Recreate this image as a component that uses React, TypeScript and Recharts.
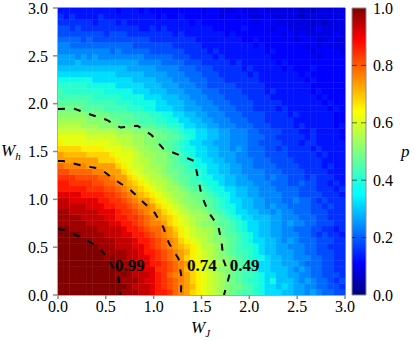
// App.tsx - p(W_J, W_h) heat map with dashed contours
import React from "react"
import {
  ReferenceArea,
  ReferenceDot,
  ReferenceLine,
  Scatter,
  ScatterChart,
  XAxis,
  YAxis,
} from "recharts"

const WIDTH = 415
const HEIGHT = 341
const SERIF = "'Liberation Serif', serif"
const AXIS_GRAY = "#8c8c8c"
const CELL_PX = 287 / 50

const axisTicks = [0, 0.5, 1, 1.5, 2, 2.5, 3]
const colorbarTicks = [0, 0.2, 0.4, 0.6, 0.8, 1]
const colorbarMarks = [0.2, 0.4, 0.6, 0.8]
const colorbarEnds = [{ x: 0, y: 0 }, { x: 1, y: 1 }]

// one string per row, from W_h = 0 upward, 50 cells each
// each char is p in 35ths (0 -> 0.0, z -> 1.0)
const pRows = [
  "zzzzzzzzzz zyyyxxwvvu srqonmlkji hgffedcccb baa9a98877",
  "zzzzzzzzzz zzyxxxwvut srqpnmlkji hhgfedccbc baa9988776",
  "zzzzzzzzzz zyyyxwwvut srqonmlkji hgfeedcdbb ba9a988767",
  "zzzzzzzzzz yzyxxxwvus rrqonmlkji hgffedccbb aa99887776",
  "zzzzzzzzzz zyyxxwwuut srpomlkjii hgfedccbbb a9a9887766",
  "zzzzzzzzzz yyyxxwvvut srqonmlkji hgfeeccbba aa98887766",
  "zzzzzzzzyz yyxxwwvuts rqonmlkjii hgfeddcbba a999887766",
  "zzzzzzzzyy yyxxwvvuts rqpnmlkjih gffedcbbaa a998877766",
  "zzzzzzzyyy xxxwwvutsr qponmkkjih gfeedcbbaa 9998877666",
  "zzzzzzyyyy xxxwvvutsr qonmlkjiih gfedccbba9 a988877766",
  "zzzzyyyyxx xwwvvutsrq pnmlkkjihg gfedcbbaa9 9988767665",
  "zzyyyyyxxx xwvvutssrq onmlkjjihg fedccbbaa9 9888776656",
  "yyyyyxxxxw wvvutsrrqo nmlkjiihgg fedccbbaa9 a998877766",
  "yyyyxxxxww vvuutsrqpo nmlkjjihgf edccbbbaa9 9988877666",
  "yyxxxxxwww vuutsrqqon mlkjjihgfe dccbbaa9a9 9888777666",
  "xxxxxwwwvv uutsrrqonm lkjiihgfed dcbbaa9a99 8888776766",
  "xxwwwwwvvu utsrqqonml kjiihggfed ccbbaa9998 8988767666",
  "wwwwvvvvuu tsrqponmlk jjihhgfedd cbbaa99998 8877776665",
  "vvvvvuuutt srqponmlkj jihggfeddc cbbaa99988 8877766656",
  "vvuuuuttss rqponmlkkj ihgffeddcb baaa999888 7787766565",
  "uuuttttssr qqonmlkkji hggfeddccb baa9998988 7776766655",
  "ttssssrrqq qonmlkkjih hgffedccbb aa99998887 7776666555",
  "srrrrqqqqq onmllkjjih ggfeddccbb aa99888877 7766665655",
  "qqqqqqqooo nmmlkkjiih gfeedccbba a999888777 7666665555",
  "qppppoooon mmmlkjjiih gfedccbbaa a998887777 6666656555",
  "oooonnnnmm mllkjjiihg feddccbbaa 9a98887767 6666565555",
  "nmmmmmmmml lkkjjiihgg fedccbbaaa 9998877776 6656655555",
  "mmmmmlllll kkkjjiihhg gfedccbbaa 9998887766 6665655554",
  "lllllkkkkk jjjiiihhgg feddccbbaa 9998877776 6655655554",
  "kkkkjjjiii hhhhgggffe edccbbaa99 9888777666 6565555545",
  "jjjjjiiiih hgggfffeed dccbbaa999 8887776666 6555555544",
  "iiiiihhhhg gggfffeedd ccbbaa9998 8877776666 5655555544",
  "hhhhggggff ffeeeddccc bbaaa99988 8777666656 5555555454",
  "gggggfffff eeeddddccb bbaa999888 7777666665 5555554544",
  "ffffffeeee eddddcccbb baa9998887 7776666555 5555545444",
  "feeeeeeedd dddcccbbba aa99988877 7766665655 5555454444",
  "eeeeeddddd cccccbbbaa a999887777 7666665555 5555444444",
  "ddddddcccc cccbbbbaaa 9998887776 6666655555 5554544444",
  "cccccccccc bbbbbaaaa9 9988877766 6665655555 5545444444",
  "bbbbbbbbbb bbaaaaa999 9888777666 6656555554 5444544444",
  "aaabaaaaaa aaaa999988 8877766666 5655555545 4444444444",
  "aaa9a9a999 9999988888 7776666565 5555555444 4444434444",
  "9999999998 9888887777 7766665655 5555554544 4444344443",
  "9988888888 8887777777 6666655555 5555454444 4443434333",
  "8888787777 7777776666 6666555555 5544544444 4344433433",
  "7777777767 7766666666 5655555554 5444444443 4343333343",
  "7767666666 6666556565 5555555444 4454444344 3333343333",
  "6666665666 5655555555 5554544444 4444344433 3333232333",
  "6565555655 5555555454 4544444434 4343334333 3323333333",
  "5555555555 4555454444 4444434433 3433343333 3323233333",
]

const contour99 = [
  { x: 0, y: 0.69 }, { x: 0.07, y: 0.68 }, { x: 0.265, y: 0.59 }, { x: 0.42, y: 0.505 },
  { x: 0.525, y: 0.38 }, { x: 0.63, y: 0.19 }, { x: 0.655, y: 0 },
]
const contour74 = [
  { x: 0, y: 1.4 }, { x: 0.055, y: 1.4 }, { x: 0.265, y: 1.35 }, { x: 0.44, y: 1.32 },
  { x: 0.6, y: 1.2 }, { x: 0.75, y: 1.105 }, { x: 0.88, y: 0.98 }, { x: 1.01, y: 0.86 },
  { x: 1.1, y: 0.71 }, { x: 1.16, y: 0.54 }, { x: 1.26, y: 0.38 }, { x: 1.29, y: 0.19 },
  { x: 1.285, y: 0 },
]
const contour49 = [
  { x: 0, y: 1.945 }, { x: 0.16, y: 1.95 }, { x: 0.33, y: 1.89 }, { x: 0.51, y: 1.83 },
  { x: 0.655, y: 1.75 }, { x: 0.83, y: 1.77 }, { x: 0.98, y: 1.67 }, { x: 1.1, y: 1.53 },
  { x: 1.275, y: 1.46 }, { x: 1.425, y: 1.4 }, { x: 1.465, y: 1.22 }, { x: 1.5, y: 1.045 },
  { x: 1.57, y: 0.87 }, { x: 1.675, y: 0.72 }, { x: 1.71, y: 0.55 }, { x: 1.73, y: 0.366 },
  { x: 1.79, y: 0.2 }, { x: 1.735, y: 0 },
]
const contours = [contour99, contour74, contour49]

const contourLabels = [
  { x: 0.75, y: 0.31, text: "0.99" },
  { x: 1.505, y: 0.31, text: "0.74" },
  { x: 1.95, y: 0.31, text: "0.49" },
]

const jetStops = [
  { at: 0, color: "#00007f" },
  { at: 0.11, color: "#0000ff" },
  { at: 0.35, color: "#00ffff" },
  { at: 0.375, color: "#0dfff0" },
  { at: 0.64, color: "#ffff00" },
  { at: 0.89, color: "#ff0000" },
  { at: 1, color: "#7f0000" },
]

const ramp = (p: number, x0: number, y0: number, x1: number, y1: number) =>
  y0 + ((y1 - y0) * (p - x0)) / (x1 - x0)

function jet(p: number) {
  const r = p < 0.35 ? 0 : p < 0.66 ? ramp(p, 0.35, 0, 0.66, 1) : p < 0.89 ? 1 : ramp(p, 0.89, 1, 1, 0.5)
  const g = p < 0.125 ? 0 : p < 0.375 ? ramp(p, 0.125, 0, 0.375, 1) : p < 0.64 ? 1 : p < 0.91 ? ramp(p, 0.64, 1, 0.91, 0) : 0
  const b = p < 0.11 ? ramp(p, 0, 0.5, 0.11, 1) : p < 0.34 ? 1 : p < 0.65 ? ramp(p, 0.34, 1, 0.65, 0) : 0
  return `rgb(${Math.round(r * 255)},${Math.round(g * 255)},${Math.round(b * 255)})`
}

const cells = pRows.flatMap((row, j) =>
  row
    .replace(/ /g, "")
    .split("")
    .map((ch, i) => ({
      x: (i + 0.5) * 0.06,
      y: (j + 0.5) * 0.06,
      p: parseInt(ch, 36) / 35,
    })),
)

const tickStyle = { fontFamily: SERIF, fontSize: 16, fill: "#000" }

const HeatCell = (props: any) => (
  <rect
    x={props.cx - CELL_PX / 2 - 0.2}
    y={props.cy - CELL_PX / 2 - 0.2}
    width={CELL_PX + 0.4}
    height={CELL_PX + 0.4}
    fill={jet(props.payload.p)}
  />
)

const titleStyle: React.CSSProperties = {
  position: "absolute",
  fontFamily: SERIF,
  fontStyle: "italic",
  fontSize: 17,
  lineHeight: "20px",
  color: "#000",
}
const subStyle: React.CSSProperties = { fontSize: 11, position: "relative", top: 4 }

export default function App() {
  return (
    <div style={{ position: "absolute", left: 0, top: 0, width: WIDTH, height: HEIGHT }}>
      <style>{".heat-cells{filter:blur(0.3px)}"}</style>
      <div style={{ position: "absolute", left: 0, top: 0 }}>
        <ScatterChart width={WIDTH} height={HEIGHT} margin={{ top: 8, right: 70, bottom: 0, left: 0 }}>
          <XAxis
            type="number"
            dataKey="x"
            domain={[0, 3]}
            ticks={axisTicks}
            interval={0}
            allowDataOverflow
            tickFormatter={(v: number) => v.toFixed(1)}
            height={46}
            tickSize={4}
            tick={tickStyle}
            stroke={AXIS_GRAY}
            strokeWidth={1.5}
          />
          <YAxis
            type="number"
            dataKey="y"
            domain={[0, 3]}
            ticks={axisTicks}
            interval={0}
            allowDataOverflow
            tickFormatter={(v: number) => v.toFixed(1)}
            width={58}
            tickSize={5}
            tickMargin={5}
            tick={tickStyle}
            stroke={AXIS_GRAY}
            strokeWidth={1.5}
          />
          <Scatter className="heat-cells" data={cells} shape={HeatCell} isAnimationActive={false} />
          {contours.map((points, i) => (
            <Scatter
              key={i}
              data={points}
              line={{ stroke: "#000", strokeWidth: 2, strokeDasharray: "7 9" }}
              shape={() => null}
              isAnimationActive={false}
            />
          ))}
          <ReferenceLine x={3} stroke={AXIS_GRAY} strokeWidth={2} />
          <ReferenceLine y={3} stroke="#30307a" strokeWidth={1} />
          {contourLabels.map((l) => (
            <ReferenceDot
              key={l.text}
              x={l.x}
              y={l.y}
              r={0}
              stroke="none"
              label={{
                value: l.text,
                position: "center",
                fontFamily: SERIF,
                fontWeight: "bold",
                fontSize: 17,
                fill: "#000",
              }}
            />
          ))}
        </ScatterChart>
      </div>
      {/* colour bar */}
      <div style={{ position: "absolute", left: 0, top: 0 }}>
        <ScatterChart width={WIDTH} height={HEIGHT} margin={{ top: 8, right: 0, bottom: 46, left: 352 }}>
          <defs>
            <linearGradient id="jetBar" x1="0" y1="1" x2="0" y2="0">
              {jetStops.map((s) => (
                <stop key={s.at} offset={s.at} stopColor={s.color} />
              ))}
            </linearGradient>
          </defs>
          <XAxis type="number" dataKey="x" domain={[0, 1]} hide />
          <YAxis
            type="number"
            dataKey="y"
            orientation="right"
            domain={[0, 1]}
            ticks={colorbarTicks}
            interval={0}
            tickFormatter={(v: number) => v.toFixed(1)}
            width={49}
            tickSize={0}
            tickMargin={7}
            tick={tickStyle}
            axisLine={false}
          />
          <Scatter data={colorbarEnds} shape={() => null} isAnimationActive={false} />
          <ReferenceArea x1={0} x2={1} y1={0} y2={1} fill="url(#jetBar)" fillOpacity={1} stroke={AXIS_GRAY} strokeWidth={1} />
          {colorbarMarks.map((m) => (
            <ReferenceLine key={m} y={m} stroke="rgba(0,0,0,0.55)" strokeDasharray="5 4" />
          ))}
        </ScatterChart>
      </div>
      <div style={{ ...titleStyle, left: 1, top: 141 }}>
        W<span style={subStyle}>h</span>
      </div>
      <div style={{ ...titleStyle, left: 191, top: 318 }}>
        W<span style={subStyle}>J</span>
      </div>
      <div style={{ ...titleStyle, left: 401, top: 142 }}>p</div>
    </div>
  )
}
